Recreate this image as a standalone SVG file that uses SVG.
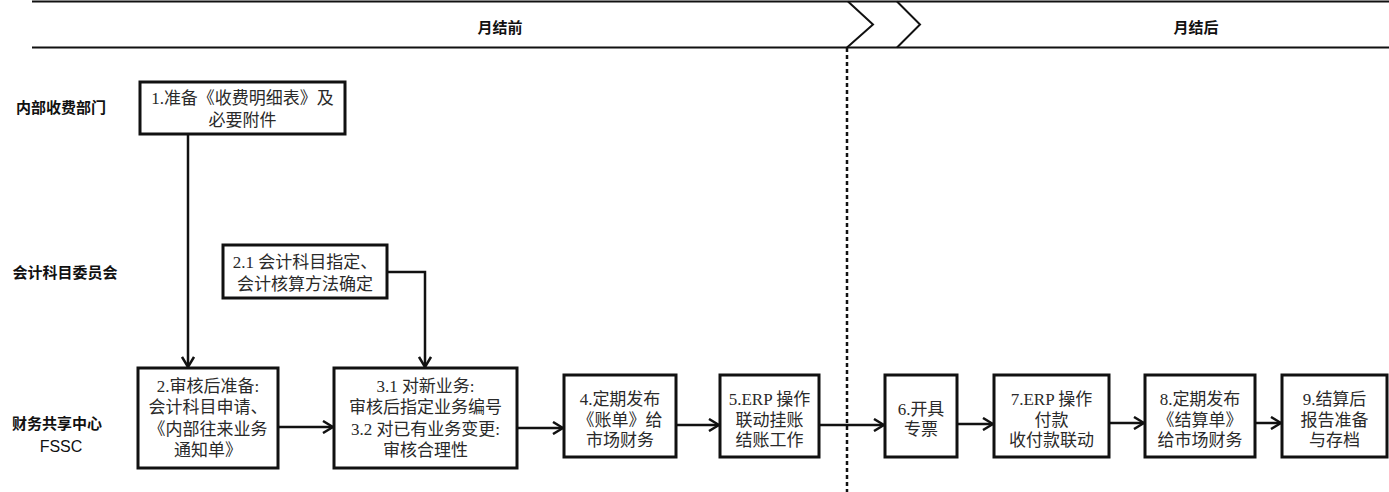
<svg xmlns="http://www.w3.org/2000/svg" width="1389" height="492" viewBox="0 0 1389 492">
<defs>
<style>
.box{fill:#fff;stroke:#111;stroke-width:3}
.t{font-family:"Liberation Serif","Noto Sans CJK SC",serif;font-size:17px;fill:#2a2a2a;text-anchor:middle;dominant-baseline:central}
.lane{font-family:"Liberation Sans","Noto Sans CJK SC",sans-serif;font-size:15px;font-weight:bold;fill:#111;text-anchor:middle;dominant-baseline:central}
.fssc{font-family:"Liberation Sans",sans-serif;font-size:16px;font-weight:normal;fill:#111;text-anchor:middle;dominant-baseline:central}
.hdr{font-family:"Liberation Sans","Noto Sans CJK SC",sans-serif;font-size:15px;font-weight:bold;fill:#111;text-anchor:middle;dominant-baseline:central}
.c{fill:none;stroke:#111;stroke-width:2.5}
.hl{fill:none;stroke:#111;stroke-width:2}
</style>
<marker id="ah" viewBox="0 0 12 14" refX="11" refY="7" markerWidth="12" markerHeight="14" markerUnits="userSpaceOnUse" orient="auto">
<path d="M1,1 L11,7 L1,13" fill="none" stroke="#111" stroke-width="2.5"/>
</marker>
</defs>
<rect width="1389" height="492" fill="#fff"/>

<g id="header">
<line class="hl" x1="32" y1="1.5" x2="1389" y2="1.5"/>
<line class="hl" x1="32" y1="47.5" x2="1389" y2="47.5"/>
<polyline class="hl" points="848,1.5 873,24.5 847,47.5"/>
<polyline class="hl" points="897,1.5 920,24.5 897,47.5"/>
<text class="hdr" x="500" y="27">月结前</text>
<text class="hdr" x="1196" y="27">月结后</text>
<line x1="847" y1="48" x2="847" y2="492" stroke="#111" stroke-width="2.5" stroke-dasharray="4 3"/>
</g>

<g id="lanes">
<text class="lane" x="61" y="107">内部收费部门</text>
<text class="lane" x="65" y="272">会计科目委员会</text>
<text class="lane" x="57" y="423">财务共享中心</text>
<text class="fssc" x="61" y="446">FSSC</text>
</g>

<g id="connectors">
<path class="c" d="M188,134 V367" marker-end="url(#ah)"/>
<path class="c" d="M387,272 H425 V367" marker-end="url(#ah)"/>
<path class="c" d="M278,427 H333" marker-end="url(#ah)"/>
<path class="c" d="M517,428 H563" marker-end="url(#ah)"/>
<path class="c" d="M676,425 H719" marker-end="url(#ah)"/>
<path class="c" d="M819,425 H884" marker-end="url(#ah)"/>
<path class="c" d="M957,424 H993" marker-end="url(#ah)"/>
<path class="c" d="M1109,423 H1144" marker-end="url(#ah)"/>
<path class="c" d="M1255,423 H1281" marker-end="url(#ah)"/>
</g>

<g id="n1">
<rect class="box" x="140" y="82" width="205" height="52"/>
<text class="t" x="242.5" y="98">1.准备《收费明细表》及</text>
<text class="t" x="242.5" y="120">必要附件</text>
</g>

<g id="n21">
<rect class="box" x="223" y="245" width="164" height="53"/>
<text class="t" x="305" y="262">2.1 会计科目指定、</text>
<text class="t" x="305" y="284">会计核算方法确定</text>
</g>

<g id="n2">
<rect class="box" x="138" y="368" width="140" height="100"/>
<text class="t" x="208" y="386">2.审核后准备:</text>
<text class="t" x="208" y="407.5">会计科目申请、</text>
<text class="t" x="208" y="429">《内部往来业务</text>
<text class="t" x="208" y="450.5">通知单》</text>
</g>

<g id="n3">
<rect class="box" x="334" y="368" width="183" height="100"/>
<text class="t" x="425.5" y="386">3.1 对新业务:</text>
<text class="t" x="425.5" y="407.5">审核后指定业务编号</text>
<text class="t" x="425.5" y="429">3.2 对已有业务变更:</text>
<text class="t" x="425.5" y="450.5">审核合理性</text>
</g>

<g id="n4">
<rect class="box" x="564" y="375" width="112" height="82"/>
<text class="t" x="620" y="399">4.定期发布</text>
<text class="t" x="620" y="420">《账单》给</text>
<text class="t" x="620" y="440">市场财务</text>
</g>

<g id="n5">
<rect class="box" x="720" y="375" width="99" height="82"/>
<text class="t" x="769.5" y="399">5.ERP 操作</text>
<text class="t" x="769.5" y="420">联动挂账</text>
<text class="t" x="769.5" y="440">结账工作</text>
</g>

<g id="n6">
<rect class="box" x="885" y="375" width="72" height="82"/>
<text class="t" x="921" y="409">6.开具</text>
<text class="t" x="921" y="429">专票</text>
</g>

<g id="n7">
<rect class="box" x="994" y="375" width="115" height="82"/>
<text class="t" x="1051.5" y="399">7.ERP 操作</text>
<text class="t" x="1051.5" y="420">付款</text>
<text class="t" x="1051.5" y="440">收付款联动</text>
</g>

<g id="n8">
<rect class="box" x="1145" y="375" width="110" height="82"/>
<text class="t" x="1200" y="399">8.定期发布</text>
<text class="t" x="1200" y="420">《结算单》</text>
<text class="t" x="1200" y="440">给市场财务</text>
</g>

<g id="n9">
<rect class="box" x="1282" y="375" width="105" height="82"/>
<text class="t" x="1334.5" y="399">9.结算后</text>
<text class="t" x="1334.5" y="420">报告准备</text>
<text class="t" x="1334.5" y="440">与存档</text>
</g>
</svg>
